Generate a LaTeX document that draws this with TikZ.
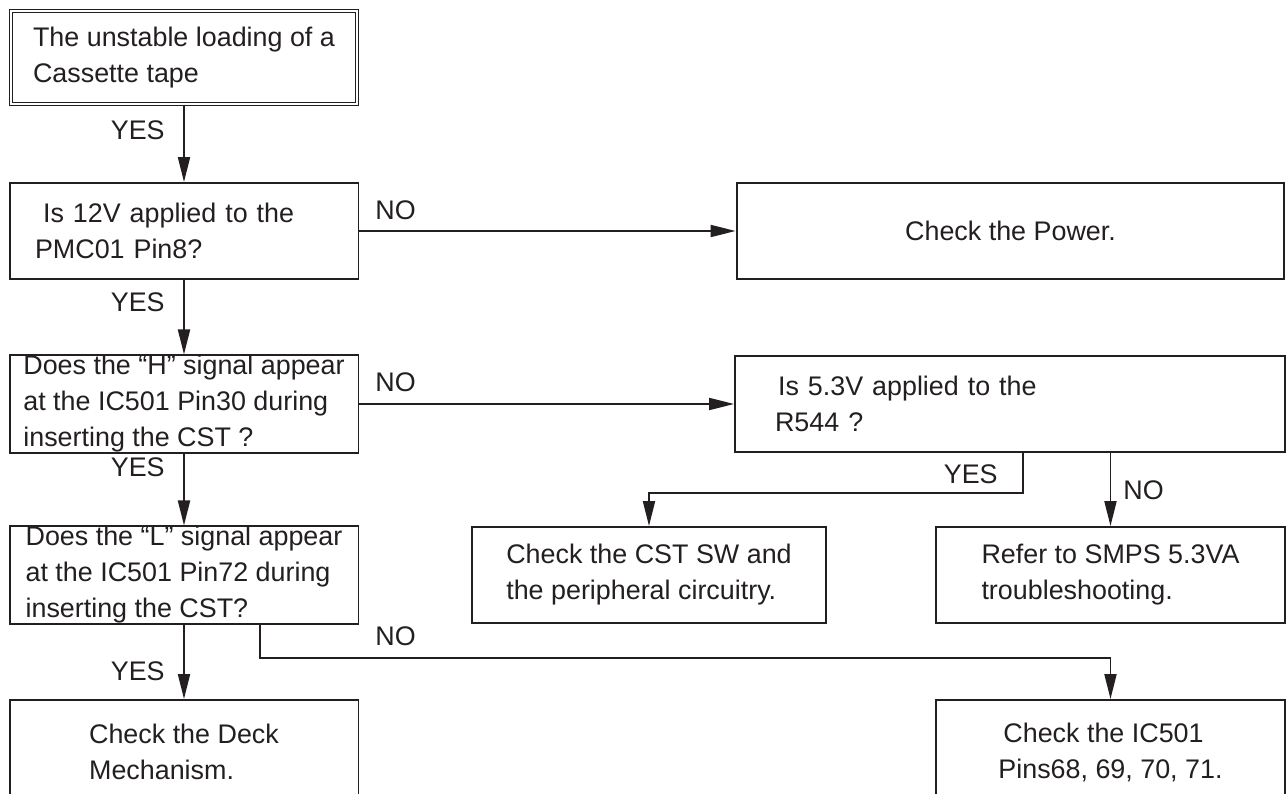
\documentclass[tikz,border=0pt]{standalone}
\usepackage{fontspec}
\setmainfont{Liberation Sans}
\usetikzlibrary{arrows.meta}
\definecolor{ink}{HTML}{231F20}
\begin{document}
\begin{tikzpicture}[x=0.02cm, y=-0.02cm,
  box/.style={draw=ink, line width=1.1pt, align=left, inner sep=0pt, text=ink,
    minimum width=6.98cm, minimum height=1.92cm, font=\fontsize{15.3}{20.5}\selectfont},
  lbl/.style={inner sep=0pt, text=ink, font=\fontsize{15.3}{18}\selectfont},
  arr/.style={-{Triangle[length=0.5cm, width=0.24cm]}, draw=ink, line width=1.1pt}]
  \useasboundingbox (0,0) rectangle (1286,794);
  \clip (0,0) rectangle (1286,794);

  % left column
  \node[box, double=white, line width=0.6pt, double distance=0.8pt, minimum width=6.92cm, minimum height=1.86cm] (start) at (184,57.5) {The unstable loading of a\\Cassette tape};
  \node[box, text width=5.96cm] (q12v) at (184,231) {\hspace*{0.16cm}Is 12V applied to the\\PMC01 Pin8?};
  \node[box] (qhsig) at (184,404) {Does the “H” signal appear\\at the IC501 Pin30 during\\inserting the CST ?};
  \node[box] (qlsig) at (184,575) {Does the “L” signal appear\\at the IC501 Pin72 during\\inserting the CST?};
  \node[box, minimum height=2.08cm] (deck) at (184,752) {Check the Deck\\Mechanism.};

  % right side
  \node[box, minimum width=10.96cm] (power) at (1010.5,231) {Check the Power.};
  \node[box, minimum width=11cm, text width=9.4cm] (q53v) at (1010,404) {\hspace*{0.06cm}Is 5.3V applied to the\\R544 ?};
  \node[box, minimum width=7.08cm] (cstsw) at (649,575) {Check the CST SW and\\the peripheral circuitry.};
  \node[box] (smps) at (1110.5,575) {Refer to SMPS 5.3VA\\troubleshooting.};
  \node[box, minimum height=2.08cm] (pins) at (1110.5,752) {\hspace*{0.1cm}Check the IC501\\Pins68, 69, 70, 71.};

  \coordinate (ysplit) at (1023,493);
  \coordinate (nsplit) at (260,658);

  \draw[arr] (start) -- (q12v);
  \draw[arr] (q12v) -- (qhsig);
  \draw[arr] (qhsig) -- (qlsig);
  \draw[arr] (qlsig) -- (deck);
  \draw[arr] (q12v) -- (power);
  \draw[arr] (qhsig) -- (q53v);
  \draw[arr] (ysplit |- q53v.south) -- (ysplit) -| (cstsw.north);
  \draw[arr] (q53v.south -| smps.north) -- (smps.north);
  \draw[arr] (nsplit |- qlsig.south) -- (nsplit) -| (pins.north);

  % labels
  \node[lbl, anchor=east] (yes1) at (165,130) {YES};
  \node[lbl, anchor=east] (yes2) at (165,302) {YES};
  \node[lbl, anchor=east] (yes3) at (165,467) {YES};
  \node[lbl, anchor=east] (yes4) at (165,671) {YES};
  \node[lbl, anchor=east] (yes5) at (998,474) {YES};
  \node[lbl, anchor=west] (no1) at (375,210) {NO};
  \node[lbl, anchor=west] (no2) at (375,382) {NO};
  \node[lbl, anchor=west] (no3) at (1123,490) {NO};
  \node[lbl, anchor=west] (no4) at (375,636) {NO};
\end{tikzpicture}
\end{document}
